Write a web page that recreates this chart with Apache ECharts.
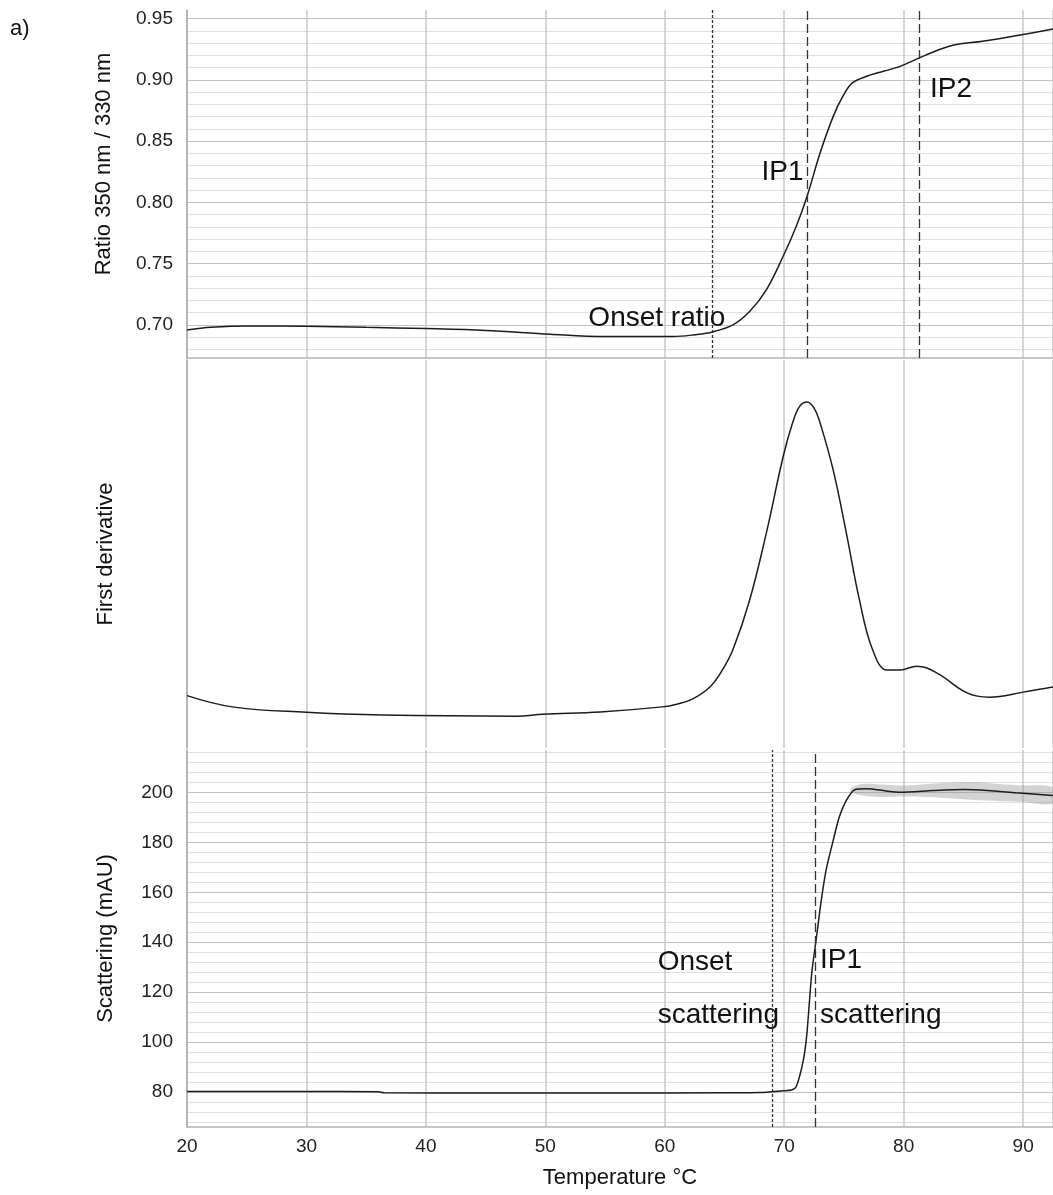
<!DOCTYPE html>
<html>
<head>
<meta charset="utf-8">
<title>Thermal unfolding</title>
<script src="https://cdn.jsdelivr.net/npm/echarts@6/dist/echarts.min.js"></script>
<style>
  html, body { margin: 0; padding: 0; background: #fff; }
  #main { width: 1053px; height: 1195px; }
</style>
</head>
<body>
<div id="main"></div>
<script>
// ratio 350/330 nm (top panel)
const ratioTemp = [20, 22, 25, 30, 35, 40, 45, 50.4, 55, 60.7, 62.5, 64.0, 65.7, 67.1, 68.5, 69.9, 71.0, 71.9, 73.0, 74.1, 74.9, 75.7, 76.9, 78.3, 79.7, 81.3, 83.0, 84.4, 86.6, 90.0, 92.5]
const ratioValue = [0.6959, 0.698, 0.6992, 0.699, 0.698, 0.697, 0.6955, 0.6924, 0.6905, 0.6905, 0.692, 0.6943, 0.700, 0.7109, 0.7286, 0.7558, 0.7803, 0.8046, 0.8403, 0.8702, 0.8865, 0.8975, 0.9029, 0.907, 0.911, 0.9179, 0.9247, 0.9288, 0.9315, 0.937, 0.9416]
const ratioLabels = [0.70, 0.75, 0.80, 0.85, 0.90, 0.95]

// first derivative (arbitrary units, middle panel)
const derivTemp = [20, 23.8, 30, 36.4, 47.6, 49.8, 54.6, 59.8, 61, 62.3, 63.8, 64.8, 65.7, 67.1, 68.5, 69.9, 70.7, 71.3, 71.9, 72.5, 73.0, 74.1, 75.2, 76.3, 77.4, 78.6, 79.7, 81.1, 82.8, 85.3, 87.2, 90.0, 92.5]
const derivValue = [13.5, 10.6, 9.2, 8.5, 8.2, 8.7, 9.3, 10.6, 11.3, 12.6, 15.8, 20.0, 25.3, 38.1, 55.4, 75.0, 83.8, 88.1, 89.2, 87.6, 83.8, 71.6, 55.4, 38.1, 25.3, 20.1, 20.1, 21.1, 19.3, 14.2, 13.1, 14.4, 15.7]

// scattering (mAU, bottom panel)
const scatTemp = [20, 30, 36, 36.5, 45, 55, 65, 68, 69.9, 70.6, 71.0, 71.6, 71.9, 72.3, 72.7, 73.1, 73.5, 74.1, 74.6, 75.2, 75.9, 76.9, 78.5, 79.7, 82.5, 85, 87, 89.4, 92.5]
const scatValue = [80.2, 80.2, 80.1, 79.7, 79.6, 79.6, 79.7, 79.8, 80.5, 80.8, 82.1, 92.8, 103.6, 127.5, 142.1, 156.8, 168.8, 180.8, 190.1, 196.8, 201.1, 201.5, 200.6, 200.1, 200.8, 201.2, 200.8, 199.9, 198.8]
const scatLabels = [80, 100, 120, 140, 160, 180, 200]
// grey error band around the scattering plateau
const bandTemp = [75.6, 76.5, 78, 80, 82, 84, 86, 88, 90, 92.5]
const bandLower = [200.2, 198.8, 198.2, 198.4, 198.2, 197.6, 197.0, 196.6, 196.2, 195.6]
const bandUpper = [201.8, 203.4, 203.2, 202.8, 203.4, 204.0, 204.2, 203.4, 202.8, 202.0]

// marker temperatures
const ratioOnset = 64.0
const ratioIP1 = 71.9
const ratioIP2 = 81.3
const scatOnset = 69.0
const scatIP1 = 72.6

const tempTicks = [20, 30, 40, 50, 60, 70, 80, 90]

// minor grid steps (every 0.01 / every 4 mAU)
const ratioGrid = []
for (let i = 68; i <= 95; i++) ratioGrid.push(i / 100)
const scatGrid = []
for (let v = 68; v <= 216; v += 4) scatGrid.push(v)

const FONT = 'Liberation Sans, Arial, Helvetica, sans-serif'
const LINE = '#1c1c1c'
const MAJOR = '#c2c2c2'
const MINOR = '#e0e0e0'
const VGRID = '#c9c9c9'

const isIn = (arr, v) => arr.some(a => Math.abs(a - v) < 1e-6)
const zip = (xs, ys) => xs.map((x, i) => [x, ys[i]])

const chart = echarts.init(document.getElementById('main'))

const xBase = (gridIndex, showLabels) => ({
  type: 'value',
  gridIndex,
  min: 20,
  max: 92.5,
  interval: 10,
  axisTick: { show: false },
  axisLine: { show: gridIndex !== 1, lineStyle: { color: '#b4b4b4', width: 1.5 } },
  axisLabel: {
    show: showLabels,
    customValues: tempTicks,
    color: '#222',
    fontSize: 19,
    fontFamily: FONT,
    margin: 10
  },
  splitLine: { show: true, lineStyle: { color: VGRID, width: 1.5 } },
  name: showLabels ? 'Temperature °C' : '',
  nameLocation: 'middle',
  nameGap: 40,
  nameTextStyle: { color: '#111', fontSize: 22, fontFamily: FONT }
})

const yName = { color: '#111', fontSize: 22, fontFamily: FONT }
const dashedLine = (x, type) => ({ xAxis: x, lineStyle: { type, color: '#333', width: 1.3 } })
const note = (t, v, text) => ({ coord: [t, v], label: { formatter: text } })
const noteStyle = {
  symbol: 'circle',
  symbolSize: 0,
  silent: true,
  label: { show: true, position: 'right', distance: 0, color: '#111', fontSize: 28, fontFamily: FONT }
}

// polygon between lower and upper band edges
function renderBand (params, api) {
  if (params.dataIndex !== 0) return
  const upper = bandTemp.map((t, i) => api.coord([t, bandUpper[i]]))
  const lower = bandTemp.map((t, i) => api.coord([t, bandLower[i]])).reverse()
  return {
    type: 'polygon',
    shape: { points: upper.concat(lower), smooth: 0.3 },
    style: { fill: 'rgba(150,150,150,0.42)' },
    silent: true
  }
}

const option = {
  animation: false,
  backgroundColor: '#fff',
  grid: [
    { left: 187, right: 0, top: 10, height: 348 },
    { left: 187, right: 0, top: 360, height: 388 },
    { left: 187, right: 0, top: 750, height: 377 }
  ],
  xAxis: [xBase(0, false), xBase(1, false), xBase(2, true)],
  yAxis: [
    {
      type: 'value',
      gridIndex: 0,
      min: 0.673,
      max: 0.957,
      name: 'Ratio 350 nm / 330 nm',
      nameLocation: 'middle',
      nameGap: 72,
      // title sits a little above the panel centre
      nameTextStyle: Object.assign({}, yName, { padding: [0, 0, 0, 40] }),
      axisLine: { show: true, lineStyle: { color: '#aaa', width: 1.5 } },
      axisTick: { show: false, customValues: ratioGrid },
      axisLabel: { customValues: ratioLabels, formatter: v => v.toFixed(2), color: '#222', fontSize: 19, fontFamily: FONT, margin: 14 },
      splitLine: { show: true, lineStyle: { width: 1, color: ratioGrid.map(v => isIn(ratioLabels, v) ? MAJOR : MINOR) } }
    },
    {
      type: 'value',
      gridIndex: 1,
      min: 0,
      max: 100,
      name: 'First derivative',
      nameLocation: 'middle',
      nameGap: 70,
      nameTextStyle: yName,
      axisLine: { show: true, lineStyle: { color: '#aaa', width: 1.5 } },
      axisTick: { show: false },
      axisLabel: { show: false },
      splitLine: { show: false }
    },
    {
      type: 'value',
      gridIndex: 2,
      min: 66,
      max: 217,
      name: 'Scattering (mAU)',
      nameLocation: 'middle',
      nameGap: 70,
      nameTextStyle: yName,
      axisLine: { show: true, lineStyle: { color: '#aaa', width: 1.5 } },
      axisTick: { show: false, customValues: scatGrid },
      axisLabel: { customValues: scatLabels, color: '#222', fontSize: 19, fontFamily: FONT, margin: 14 },
      splitLine: { show: true, lineStyle: { width: 1, color: scatGrid.map(v => isIn(scatLabels, v) ? MAJOR : MINOR) } }
    }
  ],
  graphic: [
    { type: 'text', left: 10, top: 18, style: { text: 'a)', fontSize: 22, fontFamily: FONT, fill: '#111' } }
  ],
  series: [
    {
      name: 'ratio',
      type: 'line',
      xAxisIndex: 0,
      yAxisIndex: 0,
      data: zip(ratioTemp, ratioValue),
      smooth: 0.35,
      showSymbol: false,
      lineStyle: { color: LINE, width: 1.5 },
      markLine: {
        silent: true,
        symbol: ['none', 'none'],
        label: { show: false },
        data: [dashedLine(ratioOnset, [3, 2]), dashedLine(ratioIP1, [9, 4]), dashedLine(ratioIP2, [9, 4])]
      },
      markPoint: Object.assign({}, noteStyle, {
        data: [note(53.6, 0.7057, 'Onset ratio'), note(68.1, 0.8246, 'IP1'), note(82.2, 0.8924, 'IP2')]
      })
    },
    {
      name: 'derivative',
      type: 'line',
      xAxisIndex: 1,
      yAxisIndex: 1,
      data: zip(derivTemp, derivValue),
      smooth: 0.4,
      showSymbol: false,
      lineStyle: { color: LINE, width: 1.5 }
    },
    {
      name: 'band',
      type: 'custom',
      xAxisIndex: 2,
      yAxisIndex: 2,
      data: bandTemp.map((t, i) => [t, bandLower[i], bandUpper[i]]),
      encode: { x: 0, y: [1, 2] },
      renderItem: renderBand,
      silent: true,
      z: 1
    },
    {
      name: 'scattering',
      type: 'line',
      xAxisIndex: 2,
      yAxisIndex: 2,
      data: zip(scatTemp, scatValue),
      smooth: 0.25,
      showSymbol: false,
      lineStyle: { color: LINE, width: 1.5 },
      z: 3,
      markLine: {
        silent: true,
        symbol: ['none', 'none'],
        label: { show: false },
        data: [dashedLine(scatOnset, [3, 2]), dashedLine(scatIP1, [9, 4])]
      },
      markPoint: Object.assign({}, noteStyle, {
        data: [
          note(59.4, 132, 'Onset'),
          note(59.4, 110.8, 'scattering'),
          note(73.0, 132.8, 'IP1'),
          note(73.0, 110.8, 'scattering')
        ]
      })
    }
  ]
}

chart.setOption(option)
</script>
</body>
</html>
